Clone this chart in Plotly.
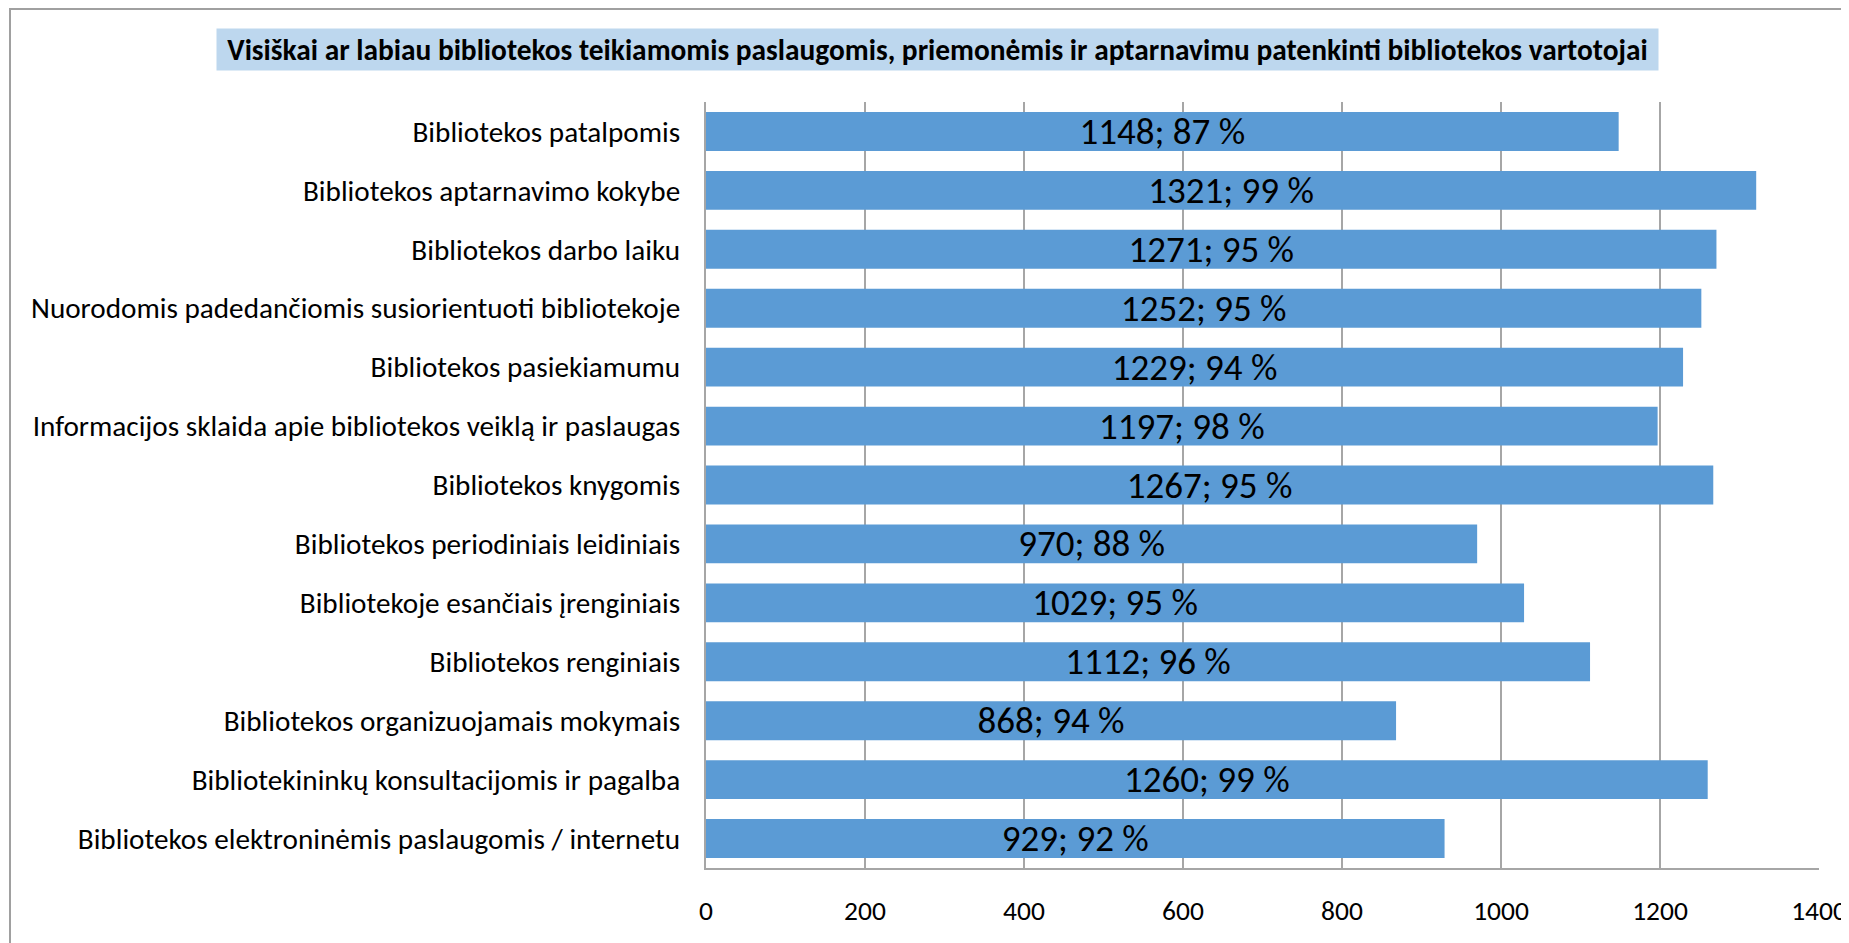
import plotly.graph_objects as go

# Data (top to bottom)
categories = [
    "Bibliotekos patalpomis",
    "Bibliotekos aptarnavimo kokybe",
    "Bibliotekos darbo laiku",
    "Nuorodomis padedančiomis susiorientuoti bibliotekoje",
    "Bibliotekos pasiekiamumu",
    "Informacijos sklaida apie bibliotekos veiklą ir paslaugas",
    "Bibliotekos knygomis",
    "Bibliotekos periodiniais leidiniais",
    "Bibliotekoje esančiais įrenginiais",
    "Bibliotekos renginiais",
    "Bibliotekos organizuojamais mokymais",
    "Bibliotekininkų konsultacijomis ir pagalba",
    "Bibliotekos elektroninėmis paslaugomis / internetu",
]
counts = [1148, 1321, 1271, 1252, 1229, 1197, 1267, 970, 1029, 1112, 868, 1260, 929]
percents = [87, 99, 95, 95, 94, 98, 95, 88, 95, 96, 94, 99, 92]
x_ticks = [0, 200, 400, 600, 800, 1000, 1200, 1400]

title_text = ("Visiškai ar labiau bibliotekos teikiamomis paslaugomis, priemonėmis "
              "ir aptarnavimu patenkinti bibliotekos vartotojai")

FONT = "Carlito, Calibri, 'Liberation Sans Narrow', 'Liberation Sans', sans-serif"
GRID = "#A6A6A6"

labels = [f"{c}; {p} %" for c, p in zip(counts, percents)]

fig = go.Figure()

fig.add_trace(go.Bar(
    x=counts,
    y=categories,
    orientation="h",
    marker=dict(color="#5B9BD5", line=dict(width=0)),
    text=labels,
    textposition="inside",
    insidetextanchor="middle",
    textangle=0,
    constraintext="none",
    textfont=dict(family=FONT, size=37, color="black"),
    hoverinfo="x+y",
))

# page body has an 8px margin, so the figure is 8px smaller than the window
fig.update_layout(
    width=1841,
    height=935,
    margin=dict(l=698, r=30, t=94, b=75),
    paper_bgcolor="white",
    plot_bgcolor="white",
    bargap=0.34,
    showlegend=False,
    font=dict(family=FONT, color="black"),
    xaxis=dict(
        range=[0, 1400],
        tickvals=x_ticks,
        ticktext=[str(t) for t in x_ticks],
        automargin=False,
        ticklabeloverflow="allow",
        showgrid=True,
        gridcolor=GRID,
        gridwidth=1.5,
        showline=True,
        linecolor=GRID,
        linewidth=2,
        zeroline=False,
        ticks="",
        ticklabelstandoff=17,
        tickfont=dict(family=FONT, size=27.5, color="black"),
    ),
    yaxis=dict(
        autorange="reversed",
        automargin=False,
        showline=True,
        linecolor=GRID,
        linewidth=2,
        showgrid=False,
        ticks="",
        ticklabelstandoff=18,
        tickfont=dict(family=FONT, size=29.2, color="black"),
    ),
    annotations=[dict(
        text="<b>" + title_text + "</b>",
        xref="paper", yref="paper",
        x=0.208, y=1.0685,
        xanchor="center", yanchor="middle",
        showarrow=False,
        bgcolor="#BDD7EE",
        width=1435, height=35, borderpad=3,
        font=dict(family=FONT, size=29.4, color="black"),
    )],
    shapes=[dict(
        type="rect",
        xref="paper", yref="paper",
        x0=(10 - 706) / 1113, x1=(1860 - 706) / 1113,
        y0=(868 - 960) / 766, y1=1 + (102 - 9) / 766,
        line=dict(color="#A0A0A0", width=2),
        layer="below",
    )],
)

fig.write_html("out.html")
